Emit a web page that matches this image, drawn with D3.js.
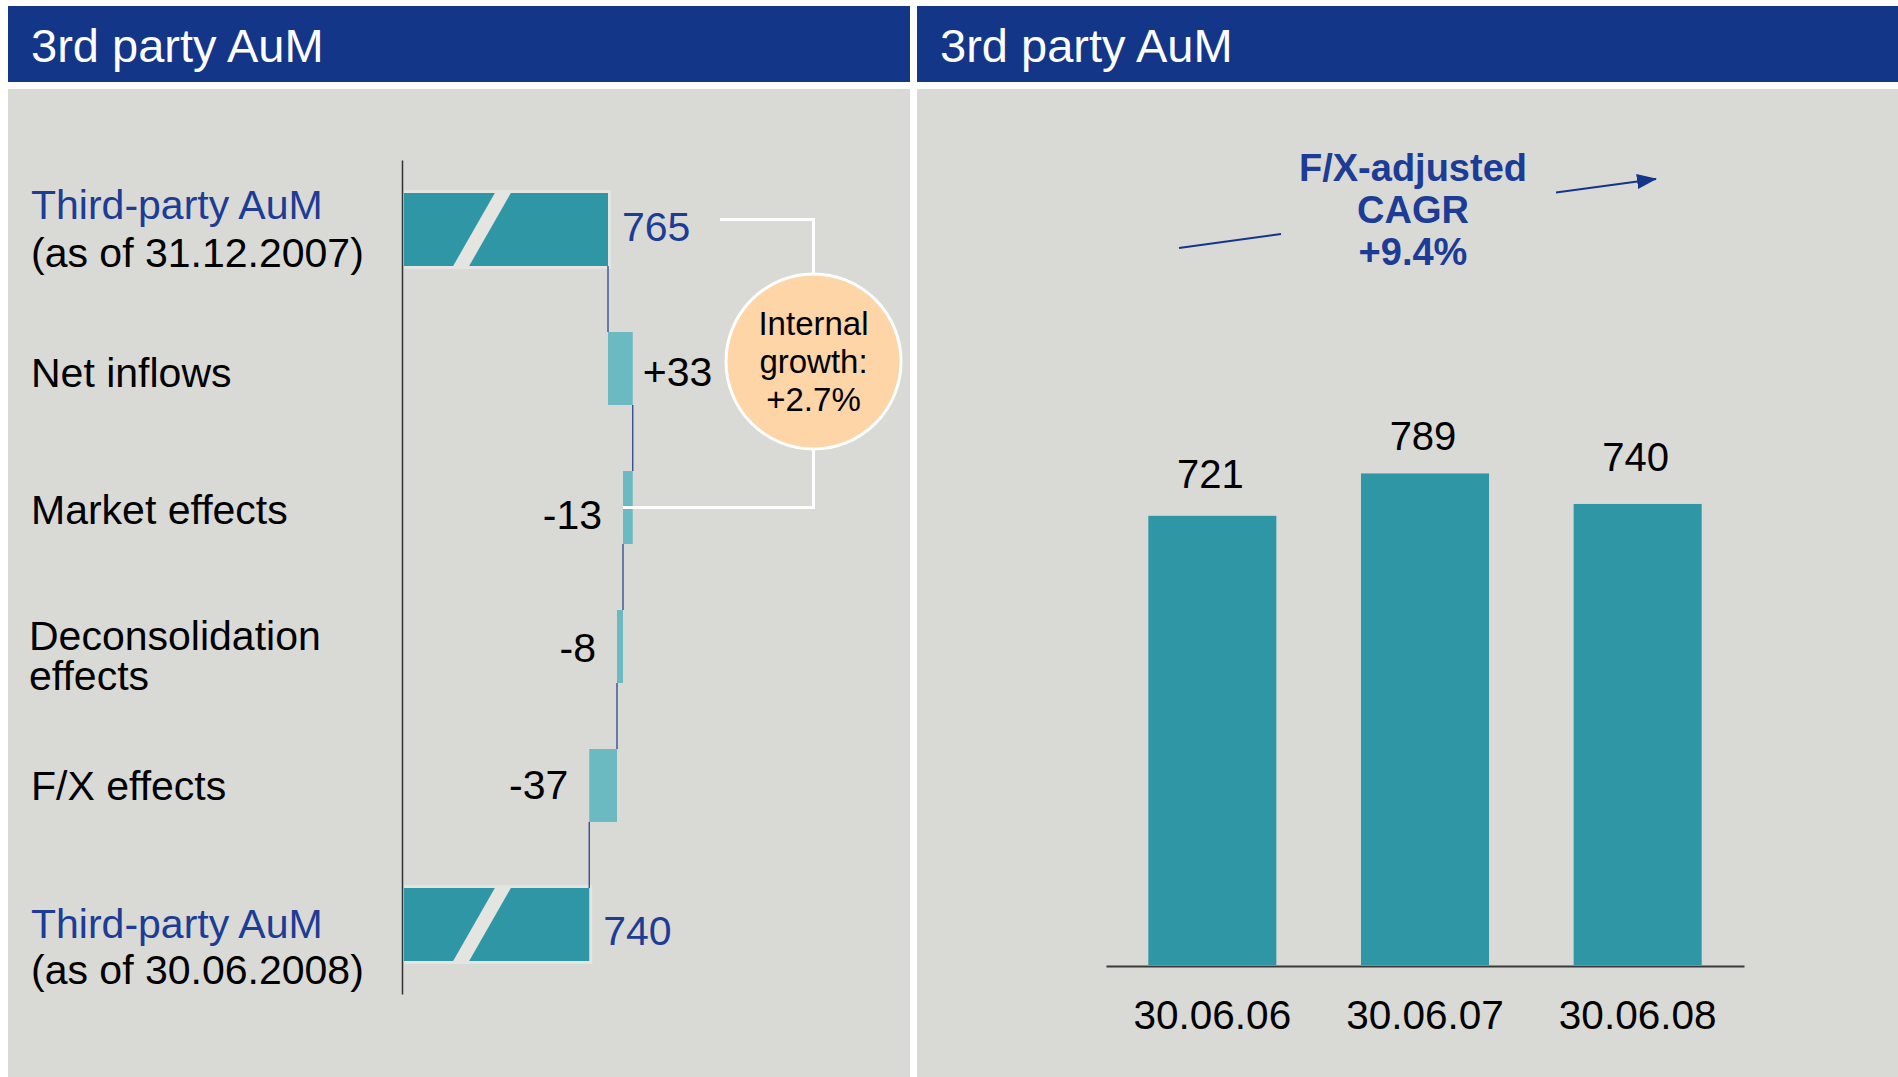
<!DOCTYPE html>
<html>
<head>
<meta charset="utf-8">
<script src="https://cdn.jsdelivr.net/npm/d3@7"></script>
<style>
  body { margin: 0; background: #fff; }
  svg { display: block; font-family: "Liberation Sans", Arial, Helvetica, sans-serif; }
</style>
</head>
<body>
<svg id="chart" width="1898" height="1077"></svg>
<script>
// ---- Data ---------------------------------------------------------------
const panelTitles = ["3rd party AuM", "3rd party AuM"];

// Waterfall: movement of third-party assets under management (EUR bn)
const stepLabels = [
  ["Third-party AuM", "(as of 31.12.2007)"],
  ["Net inflows"],
  ["Market effects"],
  ["Deconsolidation", "effects"],
  ["F/X effects"],
  ["Third-party AuM", "(as of 30.06.2008)"]
];
const stepKinds  = ["total", "delta", "delta", "delta", "delta", "total"];
const stepValues = [765, 33, -13, -8, -37, 740];
const stepValueLabels = ["765", "+33", "-13", "-8", "-37", "740"];
const growthLines = ["Internal", "growth:", "+2.7%"];

// Column chart: AuM at half-year ends
const periods = ["30.06.06", "30.06.07", "30.06.08"];
const aumValues = [721, 789, 740];
const cagrLines = ["F/X-adjusted", "CAGR", "+9.4%"];

// ---- Styling ------------------------------------------------------------
const C = {
  header: "#143689",
  panel: "#d9d9d5",
  halo: "#e4e4e0",
  total: "#2e96a5",
  delta: "#6bbac2",
  blueText: "#1c3c95",
  connector: "#2b4391",
  circle: "#fdd5a6",
  axis: "#333333"
};

const svg = d3.select("#chart");

// Panels and title bars
const panels = [
  { x: 8, w: 902 },
  { x: 917, w: 981 }
];
panels.forEach((p, i) => {
  svg.append("rect").attr("x", p.x).attr("y", 6).attr("width", p.w).attr("height", 76).attr("fill", C.header);
  svg.append("rect").attr("x", p.x).attr("y", 89).attr("width", p.w).attr("height", 988).attr("fill", C.panel);
  svg.append("text").attr("x", p.x + 23).attr("y", 62)
    .attr("font-size", 47).attr("fill", "#fff").text(panelTitles[i]);
});

// ---- Left panel: waterfall ---------------------------------------------
const yW = d3.scaleBand()
  .domain(d3.range(stepValues.length))
  .range([160, 994])
  .paddingInner(0.475)
  .paddingOuter(0.2375);
const xW = d3.scaleLinear().domain([493, 800]).range([404, 634.25]);
const bw = yW.bandwidth();
const mid = i => yW(i) + bw / 2;

let running = 0;
const rows = stepValues.map((v, i) => {
  let s, e;
  if (stepKinds[i] === "total") { s = xW.domain()[0]; e = v; running = v; }
  else { s = running; e = running + v; running = e; }
  return { i, v, s, e, kind: stepKinds[i], label: stepValueLabels[i] };
});

const gW = svg.append("g");

// light halo behind the broken total bars
gW.selectAll("rect.halo").data(rows.filter(r => r.kind === "total")).join("rect")
  .attr("class", "halo")
  .attr("x", r => xW(r.s))
  .attr("y", r => yW(r.i) - 3)
  .attr("width", r => xW(r.e) - xW(r.s) + 3)
  .attr("height", bw + 6)
  .attr("fill", C.halo);

gW.selectAll("rect.bar").data(rows).join("rect")
  .attr("class", "bar")
  .attr("x", r => xW(Math.min(r.s, r.e)))
  .attr("y", r => yW(r.i))
  .attr("width", r => Math.abs(xW(r.e) - xW(r.s)))
  .attr("height", bw)
  .attr("fill", r => r.kind === "total" ? C.total : C.delta);

// axis-break slash through the total bars
gW.selectAll("path.brk").data(rows.filter(r => r.kind === "total")).join("path")
  .attr("class", "brk")
  .attr("d", r => {
    const x0 = xW(r.s), t = yW(r.i) - 2, b = yW(r.i) + bw + 2;
    return `M${x0 + 92},${t} L${x0 + 108},${t} L${x0 + 64},${b} L${x0 + 48},${b} Z`;
  })
  .attr("fill", C.halo);

// connectors between consecutive steps
gW.selectAll("line.conn").data(rows.slice(0, -1)).join("line")
  .attr("class", "conn")
  .attr("x1", r => xW(r.e)).attr("x2", r => xW(r.e))
  .attr("y1", r => yW(r.i) + bw).attr("y2", r => yW(r.i + 1))
  .attr("stroke", C.connector).attr("stroke-width", 1.3);

// vertical category axis
gW.append("g")
  .attr("transform", "translate(402,0)")
  .call(d3.axisLeft(yW).tickSize(0).tickSizeOuter(0).tickFormat(""))
  .call(g => g.select(".domain").attr("stroke", C.axis).attr("stroke-width", 1.5));

// value labels
const valueDy = [11, 17.5, 21.5, 15, 13.5, 20.5];
gW.selectAll("text.val").data(rows).join("text")
  .attr("class", "val")
  .attr("font-size", 41)
  .attr("x", r => r.kind === "total" ? xW(r.e) + 14 : (r.v >= 0 ? xW(r.e) + 10 : xW(r.e) - 21))
  .attr("y", r => mid(r.i) + valueDy[r.i])
  .attr("text-anchor", r => (r.kind === "delta" && r.v < 0) ? "end" : "start")
  .attr("fill", r => r.kind === "total" ? C.blueText : "#000")
  .text(r => r.label);

// category labels
const labelDy = [-11, 18, 16.5, 3.5, 14.5, 13];
const labelLead = [48, 0, 0, 40, 0, 46];
const labelX = [31, 31, 31, 29, 31, 31];
stepLabels.forEach((lines, i) => {
  const t = gW.append("text").attr("font-size", 41);
  lines.forEach((ln, j) => {
    t.append("tspan")
      .attr("x", labelX[i])
      .attr("y", mid(i) + labelDy[i] + j * labelLead[i])
      .attr("fill", (stepKinds[i] === "total" && j === 0) ? C.blueText : "#000")
      .text(ln);
  });
});

// internal growth bracket and bubble
const brTop = mid(0) - 10;
const brBot = mid(2);
const cx = 813.5, cy = (brTop + brBot) / 2 - 2, rad = 87.5;
gW.append("path")
  .attr("d", `M720,${brTop} H${cx} V${cy - rad} M${cx},${cy + rad} V${brBot} H${xW(rows[2].e)}`)
  .attr("fill", "none").attr("stroke", "#fff").attr("stroke-width", 3);
gW.append("circle").attr("cx", cx).attr("cy", cy).attr("r", rad)
  .attr("fill", C.circle).attr("stroke", "#fff").attr("stroke-width", 3);
gW.append("text").attr("font-size", 33).attr("text-anchor", "middle")
  .selectAll("tspan").data(growthLines).join("tspan")
  .attr("x", cx).attr("y", (d, j) => cy - 27 + j * 38)
  .text(d => d);

// ---- Right panel: columns -----------------------------------------------
const xB = d3.scaleBand().domain(periods).range([1106, 1744]).paddingInner(0.398).paddingOuter(0.199);
const yB = d3.scaleLinear().domain([0, 800]).range([965, 965 - 800 * 0.623]);

const gB = svg.append("g");
gB.selectAll("rect").data(aumValues).join("rect")
  .attr("x", (d, i) => xB(periods[i]))
  .attr("y", d => yB(d))
  .attr("width", xB.bandwidth())
  .attr("height", d => yB(0) - yB(d))
  .attr("fill", C.total);

const colLabelGap = [28, 23, 33];
gB.selectAll("text.val").data(aumValues).join("text")
  .attr("class", "val")
  .attr("x", (d, i) => xB(periods[i]) + xB.bandwidth() / 2 - 2)
  .attr("y", (d, i) => yB(d) - colLabelGap[i])
  .attr("text-anchor", "middle")
  .attr("font-size", 40)
  .attr("fill", "#000")
  .text(d => d);

gB.append("g")
  .attr("transform", "translate(0,966)")
  .call(d3.axisBottom(xB).tickSize(0).tickSizeOuter(0).tickPadding(34))
  .call(g => g.select(".domain").attr("stroke", "#3a3a3a").attr("stroke-width", 2))
  .call(g => g.selectAll("text")
    .attr("font-size", 40.5)
    .attr("font-family", '"Liberation Sans", Arial, sans-serif')
    .attr("fill", "#000"));

// CAGR annotation with arrow
const defs = svg.append("defs");
defs.append("marker")
  .attr("id", "arrowHead")
  .attr("markerUnits", "userSpaceOnUse")
  .attr("viewBox", "0 0 20 15")
  .attr("markerWidth", 20).attr("markerHeight", 15)
  .attr("refX", 19).attr("refY", 7.5)
  .attr("orient", "auto")
  .append("path").attr("d", "M0,0 L20,7.5 L0,15 Z").attr("fill", C.header);

gB.append("line")
  .attr("x1", 1179).attr("y1", 248).attr("x2", 1281).attr("y2", 234)
  .attr("stroke", C.header).attr("stroke-width", 2);
gB.append("line")
  .attr("x1", 1556).attr("y1", 192.5).attr("x2", 1656).attr("y2", 179)
  .attr("stroke", C.header).attr("stroke-width", 2)
  .attr("marker-end", "url(#arrowHead)");

gB.append("text").attr("font-size", 38).attr("font-weight", "bold")
  .attr("text-anchor", "middle").attr("fill", C.blueText)
  .selectAll("tspan").data(cagrLines).join("tspan")
  .attr("x", 1413).attr("y", (d, j) => 181 + j * 42)
  .text(d => d);
</script>
</body>
</html>
